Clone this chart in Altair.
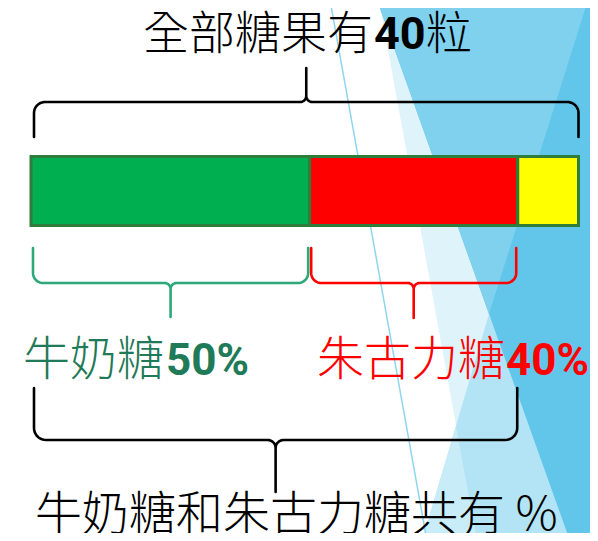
import altair as alt
import numpy as np
import pandas as pd

# ---------------- data ----------------
total_candies = 40
segment_names = ["牛奶糖", "朱古力糖", "其他"]
segment_label_pct = [50, 40]
segment_drawn_pct = [50.9, 38.0, 11.1]          # widths as drawn in the picture
segment_colors = ["#00b050", "#ff0000", "#ffff00"]
label_colors = ["#1f7a58", "#ff0000"]
brace_colors = {"top": "#000000", "milk": "#2ea878", "choc": "#ff0000", "bottom": "#000000"}

# ---------------- geometry helpers (page pixel space) ----------------
BAR_X0, BAR_X1 = 31.0, 578.5
BAR_Y0, BAR_Y1 = 156.5, 225.5


def px(p):
    return BAR_X0 + p / 100.0 * (BAR_X1 - BAR_X0)


bounds = np.concatenate([[0], np.cumsum(segment_drawn_pct)])
bar_df = pd.DataFrame({
    "name": segment_names,
    "x": [px(b) for b in bounds[:-1]],
    "x2": [px(b) for b in bounds[1:]],
    "y": [BAR_Y0] * 3,
    "y2": [BAR_Y1] * 3,
    "fill": segment_colors,
})


def brace_points(x0, x1, y_end, y_line, y_tip, r1, r2, n=10):
    xc = (x0 + x1) / 2.0
    s = np.sign(y_end - y_line)
    t = -s
    a = np.linspace(0, np.pi / 2, n)
    left = [(x0, y_end)]
    cx, cy = x0 + r1, y_line + s * r1
    left += list(zip(cx - r1 * np.cos(a), cy - s * r1 * np.sin(a)))
    cx, cy = xc - r2, y_line + t * r2
    left += list(zip(cx + r2 * np.sin(a), cy - t * r2 * np.cos(a)))
    left += [(xc, y_tip)]
    right = [(x1, y_end)]
    cx, cy = x1 - r1, y_line + s * r1
    right += list(zip(cx + r1 * np.cos(a), cy - s * r1 * np.sin(a)))
    cx, cy = xc + r2, y_line + t * r2
    right += list(zip(cx - r2 * np.sin(a), cy - t * r2 * np.cos(a)))
    right += [(xc, y_tip)]
    return left + right[::-1]


b_green_end = px(bounds[1])
b_red_end = px(bounds[2])
brace_specs = {
    "top": (px(0) + 3, px(100), 137, 102, 68, 11, 6),
    "milk": (px(0) + 2, b_green_end - 1.5, 248, 283, 317, 10, 6),
    "choc": (b_green_end + 1.5, b_red_end - 1.5, 248, 283, 318, 10, 6),
    "bottom": (px(0) + 3, b_red_end - 0.5, 388, 440, 492, 12, 8),
}
rows = []
for bid, spec in brace_specs.items():
    for i, (x, y) in enumerate(brace_points(*spec)):
        rows.append({"id": bid, "x": x, "y": y, "o": i, "color": brace_colors[bid]})
brace_df = pd.DataFrame(rows)

# background facet shapes (horizontal areas: y, left x, right x)
bg_regions = [
    ("#dff3fa", [(0, 379, 598), (541, 477, 598)]),
    ("#b3e4f5", [(314, 489, 489), (541, 422, 598)]),
    ("#c8ecf8", [(426.5, 456, 456), (541, 422, 477)]),
    ("#62c6eb", [(0, 377, 598), (541, 570, 598)]),
    ("#7fd1ee", [(0, 377, 588), (314, 489, 489)]),
]
thin_line = pd.DataFrame({"x": [330, 427], "y": [0, 541]})

# ---------------- scales (page pixels, chart starts at the 8px body margin) ----------------
X = lambda f="x": alt.X(f"{f}:Q", scale=alt.Scale(domain=[8, 590], nice=False, zero=False), axis=None)
Y = lambda f="y": alt.Y(f"{f}:Q", scale=alt.Scale(domain=[8, 533], reverse=True, nice=False, zero=False), axis=None)

layers = []
for color, pts in bg_regions:
    d = pd.DataFrame(pts, columns=["y", "x", "x2"])
    layers.append(
        alt.Chart(d).mark_area(orient="horizontal", color=color, opacity=1)
        .encode(y=Y(), x=X(), x2="x2:Q")
    )
layers.append(
    alt.Chart(thin_line).mark_line(color="#8fd5f0", strokeWidth=1.5).encode(x=X(), y=Y())
)
layers.append(
    alt.Chart(bar_df).mark_rect(stroke="#2f7d3a", strokeWidth=3)
    .encode(x=X(), x2="x2:Q", y=Y(), y2="y2:Q", fill=alt.Fill("fill:N", scale=None))
)
layers.append(
    alt.Chart(brace_df).mark_line(strokeWidth=2.6, strokeCap="round", strokeJoin="round")
    .encode(x=X(), y=Y(), detail="id:N", order="o:Q", color=alt.Color("color:N", scale=None))
)

CJK = "Noto Sans CJK TC"
DIG = "Roboto"
texts = [
    ("全部糖果有", 373, 49, "right", CJK, 300, 46, "#000000"),
    (str(total_candies), 374, 49, "left", DIG, "bold", 45, "#000000"),
    ("粒", 426, 49, "left", CJK, 300, 46, "#000000"),
    (segment_names[0], 23, 375, "left", CJK, 300, 47, label_colors[0]),
    (f"{segment_label_pct[0]}%", 166, 375, "left", DIG, "bold", 44, label_colors[0]),
    (segment_names[1], 505, 375, "right", CJK, 300, 47, label_colors[1]),
    (f"{segment_label_pct[1]}%", 506, 375, "left", DIG, "bold", 44, label_colors[1]),
    (f"{segment_names[0]}和{segment_names[1]}共有 %", 35, 530, "left", CJK, 300, 47, "#000000"),
]
for txt, x, y, align, font, weight, size, color in texts:
    d = pd.DataFrame({"x": [x], "y": [y], "t": [txt]})
    layers.append(
        alt.Chart(d).mark_text(align=align, baseline="alphabetic", font=font, fontWeight=weight,
                               fontSize=size, color=color)
        .encode(x=X(), y=Y(), text="t:N")
    )

chart = (
    alt.layer(*layers)
    .properties(width=582, height=525, padding=0, autosize=alt.AutoSizeParams(type="none"),
                background="#ffffff")
    .configure_view(stroke=None)
)
chart.save("out.html", embed_options={"renderer": "svg", "actions": False})
